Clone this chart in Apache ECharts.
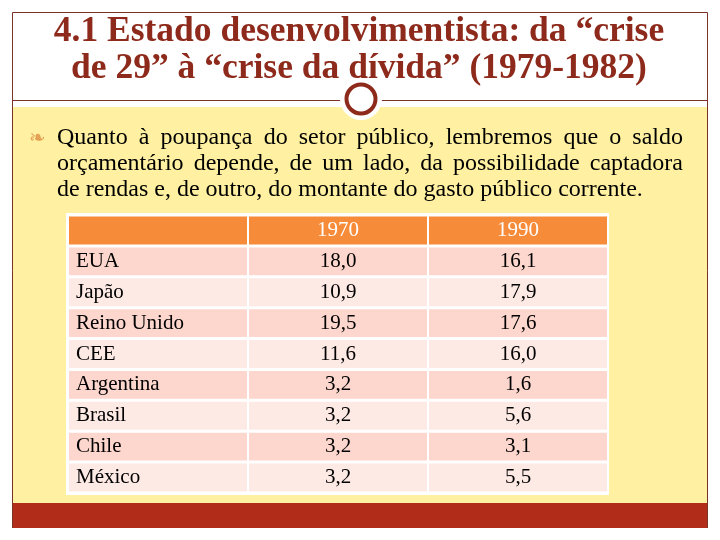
<!DOCTYPE html>
<html><head><meta charset="utf-8">
<script src="https://cdn.jsdelivr.net/npm/echarts@6/dist/echarts.min.js"></script>
<style>html,body{margin:0;padding:0;background:#fff}#c{width:720px;height:540px}</style>
</head><body><div id="c"></div>
<script>
var titleLines = ['4.1 Estado desenvolvimentista: da “crise', 'de 29” à “crise da dívida” (1979-1982)'];
var bodyLines = ['Quanto à poupança do setor público, lembremos que o saldo',
                 'orçamentário depende, de um lado, da possibilidade captadora',
                 'de rendas e, de outro, do montante do gasto público corrente.'];
var columns = ['', '1970', '1990'];
var countries = ['EUA', 'Japão', 'Reino Unido', 'CEE', 'Argentina', 'Brasil', 'Chile', 'México'];
var values1970 = [18.0, 10.9, 19.5, 11.6, 3.2, 3.2, 3.2, 3.2];
var values1990 = [16.1, 17.9, 17.6, 16.0, 1.6, 5.6, 3.1, 5.5];

function fmt(v){ return v.toFixed(1).replace('.', ','); }

var rows = ['header'].concat(countries);
var cells = [];
for (var c = 0; c < 3; c++) cells.push([c, 0, columns[c]]);
for (var i = 0; i < countries.length; i++) {
  cells.push([0, i + 1, countries[i]]);
  cells.push([1, i + 1, fmt(values1970[i])]);
  cells.push([2, i + 1, fmt(values1990[i])]);
}

var chart = echarts.init(document.getElementById('c'), null, {renderer: 'canvas'});
var titleColor = '#8E2A1C';
var serifFam = 'Liberation Serif';

function txtStyle(text, size, weight, fill, align) {
  return {text: text, fontFamily: serifFam, fontSize: size, fontWeight: weight, fill: fill,
          align: align, verticalAlign: 'middle'};
}

var graphics = [
  {type: 'rect', shape: {x: 12, y: 107, width: 696, height: 396}, style: {fill: '#FFF1A1'}, z: -10},
  {type: 'rect', shape: {x: 12, y: 503, width: 696, height: 25}, style: {fill: '#B22D19'}, z: -10},
  {type: 'polyline', shape: {points: [[12.5, 528], [12.5, 12.5], [707.5, 12.5], [707.5, 528]]}, style: {stroke: '#7A3325', lineWidth: 1, fill: null}, z: -5},
  {type: 'line', shape: {x1: 12, y1: 100.5, x2: 708, y2: 100.5}, style: {stroke: '#7A3325', lineWidth: 1}, z: -5},
  {type: 'circle', shape: {cx: 361, cy: 99, r: 21}, style: {fill: '#ffffff'}, z: -4},
  {type: 'circle', shape: {cx: 361, cy: 99, r: 14.5}, style: {fill: '#ffffff', stroke: '#8E2A1C', lineWidth: 4}, z: -3},
  {type: 'text', x: 359, y: 32, style: txtStyle(titleLines[0], 35.5, 'bold', titleColor, 'center')},
  {type: 'text', x: 359, y: 69, style: txtStyle(titleLines[1], 35.5, 'bold', titleColor, 'center')},
  {type: 'text', x: 29, y: 139, style: {text: '❧', fontFamily: 'DejaVu Sans', fontSize: 20, fill: '#E4A155', align: 'left', verticalAlign: 'middle'}}
];

// justified body text (layout only)
var ctx = document.createElement('canvas').getContext('2d');
ctx.font = '24px "Liberation Serif"';
var bodyY = [138, 164, 190];
var bodyLeft = 57, bodyRight = 683;
for (var b = 0; b < bodyLines.length; b++) {
  var words = bodyLines[b].split(' ');
  if (b < bodyLines.length - 1) {
    var tw = 0;
    words.forEach(function (w) { tw += ctx.measureText(w).width; });
    var gap = (bodyRight - bodyLeft - tw) / (words.length - 1);
    var x = bodyLeft;
    words.forEach(function (w) {
      graphics.push({type: 'text', x: x, y: bodyY[b], style: txtStyle(w, 24, 'normal', '#000', 'left')});
      x += ctx.measureText(w).width + gap;
    });
  } else {
    graphics.push({type: 'text', x: bodyLeft, y: bodyY[b], style: txtStyle(bodyLines[b], 24, 'normal', '#000', 'left')});
  }
}
graphics.push({type: 'rect', shape: {x: 66, y: 213, width: 543, height: 282}, style: {fill: '#ffffff'}, z: -2});

chart.setOption({
  animation: false,
  backgroundColor: '#ffffff',
  grid: {left: 68, top: 215, width: 540, height: 278},
  xAxis: {type: 'category', data: columns, show: false},
  yAxis: {type: 'category', data: rows, inverse: true, show: false},
  graphic: graphics,
  series: [{
    type: 'custom',
    data: cells,
    renderItem: function (params, api) {
      var col = api.value(0), row = api.value(1);
      var txt = cells[params.dataIndex][2];
      var p = api.coord([col, row]);
      var s = api.size([1, 1]);
      var x0 = p[0] - s[0] / 2 + 1, y0 = p[1] - s[1] / 2 + 1.5;
      var w = s[0] - 2, h = s[1] - 3;
      var fill = row === 0 ? '#F68B3A' : (row % 2 === 1 ? '#FDD7CD' : '#FEEAE4');
      var isLeft = col === 0;
      return {
        type: 'group',
        children: [
          {type: 'rect', shape: {x: x0, y: y0, width: w, height: h}, style: {fill: fill}},
          {type: 'text', x: isLeft ? x0 + 7 : p[0], y: p[1],
           style: txtStyle(txt, 21, 'normal', row === 0 ? '#ffffff' : '#000000', isLeft ? 'left' : 'center')}
        ]
      };
    }
  }]
});
</script></body></html>
